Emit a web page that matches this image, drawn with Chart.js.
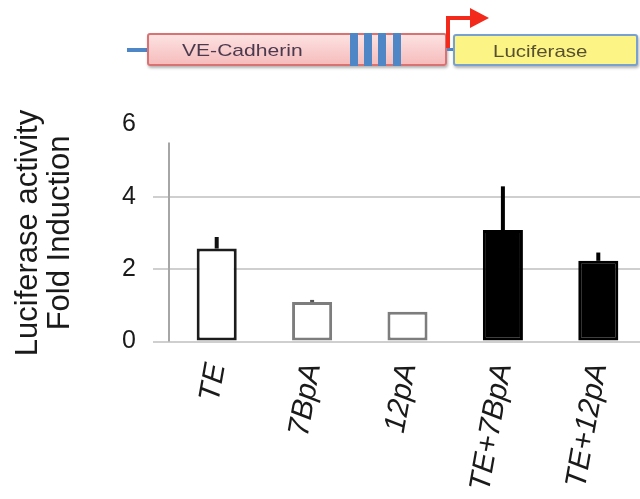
<!DOCTYPE html>
<html>
<head>
<meta charset="utf-8">
<script src="https://cdn.jsdelivr.net/npm/chart.js@4/dist/chart.umd.min.js"></script>
<style>
  html, body { margin: 0; padding: 0; background: #fff; }
  #wrap { position: relative; width: 640px; height: 499px; overflow: hidden; background: #fff; }
  #plot { position: absolute; left: 0; top: 0; }
  .d { position: absolute; box-sizing: border-box; }
  .wire { background: #4f87c6; }
  .box { border-radius: 3px; box-shadow: 1px 2px 3px rgba(0,0,0,0.3); }
  .lbl { position: absolute; white-space: nowrap; font-family: "Liberation Sans", Arial, sans-serif;
         transform-origin: left center; transform: scaleX(1.24); }
  .red { background: #f2291b; }
</style>
</head>
<body>
<div id="wrap">
  <canvas id="plot" width="650" height="499"></canvas>

  <!-- promoter construct: VE-Cadherin promoter driving Luciferase -->
  <div class="d wire" style="left:127px;top:48px;width:22px;height:4px;"></div>
  <div class="d box" style="left:147px;top:33px;width:300px;height:33px;background:linear-gradient(#fde2e2,#f6bcbc);border:2px solid #d97272;">
    <span class="lbl" style="left:33px;top:6px;font-size:17px;color:#4b3a4e;">VE-Cadherin</span>
  </div>
  <div class="d wire" style="left:350px;top:33px;width:8px;height:33px;"></div>
  <div class="d wire" style="left:364px;top:33px;width:8px;height:33px;"></div>
  <div class="d wire" style="left:378px;top:33px;width:8px;height:33px;"></div>
  <div class="d wire" style="left:393px;top:33px;width:8px;height:33px;"></div>
  <div class="d wire" style="left:447px;top:48px;width:7px;height:3px;"></div>
  <div class="d box" style="left:453px;top:34px;width:185px;height:32px;background:#fdf486;border:2px solid #78a0d0;">
    <span class="lbl" style="left:38px;top:6px;font-size:16.5px;color:#56502e;">Luciferase</span>
  </div>
  <!-- transcription start arrow -->
  <div class="d red" style="left:446px;top:16px;width:4px;height:32px;"></div>
  <div class="d red" style="left:446px;top:16px;width:26px;height:4px;"></div>
  <div class="d" style="left:470px;top:8px;width:0;height:0;border-left:19px solid #f2291b;border-top:10px solid transparent;border-bottom:10px solid transparent;"></div>
</div>

<script>
// Treatments and measured fold induction (mean, upper error)
const categories = ['TE', '7BpA', '12pA', 'TE+7BpA', 'TE+12pA'];
const foldInduction = [2.57, 1.09, 0.82, 3.08, 2.23];
const errorUpper = [0.32, 0.06, 0, 1.21, 0.23];
const yTicks = [0, 2, 4, 6];
const axisTop = 5.5;

const fills = ['#ffffff', '#ffffff', '#ffffff', '#000000', '#000000'];
const borders = ['#1c1c1c', '#7d7d7d', '#7d7d7d', '#000000', '#000000'];
const errColors = ['#111111', '#555555', '#555555', '#000000', '#000000'];
const FONT = '"Liberation Sans", Arial, sans-serif';

// Upper error whiskers drawn from each bar's value
const errorBars = {
  id: 'errorBars',
  afterDatasetsDraw(chart) {
    const { ctx, scales: { y } } = chart;
    const meta = chart.getDatasetMeta(0);
    ctx.save();
    ctx.lineCap = 'butt';
    meta.data.forEach((bar, i) => {
      if (!errorUpper[i]) return;
      const base = y.getPixelForValue(foldInduction[i]);
      const top = y.getPixelForValue(foldInduction[i] + errorUpper[i]);
      ctx.strokeStyle = errColors[i];
      ctx.lineWidth = 4;
      ctx.beginPath();
      ctx.moveTo(bar.x, base);
      ctx.lineTo(bar.x, top);
      ctx.stroke();
    });
    ctx.restore();
  }
};

// Vertical value axis that stops short of the top tick
const valueAxisLine = {
  id: 'valueAxisLine',
  beforeDatasetsDraw(chart) {
    const { ctx, chartArea, scales: { y } } = chart;
    ctx.save();
    ctx.strokeStyle = '#a6a6a6';
    ctx.lineWidth = 2;
    ctx.beginPath();
    ctx.moveTo(chartArea.left, y.getPixelForValue(0));
    ctx.lineTo(chartArea.left, y.getPixelForValue(axisTop));
    ctx.stroke();
    ctx.restore();
  }
};

const gridColor = (c) => (c.tick && c.tick.value === yTicks[yTicks.length - 1]) ? 'rgba(0,0,0,0)' : '#cfcfcf';

new Chart(document.getElementById('plot'), {
  type: 'bar',
  data: {
    labels: categories,
    datasets: [{
      data: foldInduction,
      backgroundColor: fills,
      borderColor: borders,
      borderWidth: 3,
      borderSkipped: false,
      barPercentage: 0.42,
      categoryPercentage: 1
    }]
  },
  options: {
    responsive: false,
    animation: false,
    devicePixelRatio: 1,
    layout: { padding: { left: 0, right: 4, top: 124.5, bottom: 0 } },
    plugins: { legend: { display: false }, tooltip: { enabled: false } },
    scales: {
      x: {
        grid: { display: false },
        border: { display: false },
        ticks: {
          autoSkip: false,
          minRotation: 80,
          maxRotation: 80,
          padding: 11,
          color: '#1a1a1a',
          font: { family: FONT, size: 30, style: 'italic' }
        },
        afterFit(scale) { scale.height = 157.5; }
      },
      y: {
        min: yTicks[0],
        max: yTicks[yTicks.length - 1],
        afterBuildTicks(scale) { scale.ticks = yTicks.map(v => ({ value: v })); },
        border: { display: false },
        grid: { color: gridColor, lineWidth: 2, tickLength: 16, drawTicks: true },
        ticks: {
          padding: 17,
          color: '#1a1a1a',
          font: { family: FONT, size: 25 }
        },
        title: {
          display: true,
          text: ['Luciferase activity', 'Fold Induction'],
          color: '#1a1a1a',
          font: { family: FONT, size: 31, lineHeight: 32 / 31 },
          padding: { top: 12.5, bottom: 0 }
        },
        afterFit(scale) { scale.width = 169; }
      }
    }
  },
  plugins: [valueAxisLine, errorBars]
});
</script>
</body>
</html>
